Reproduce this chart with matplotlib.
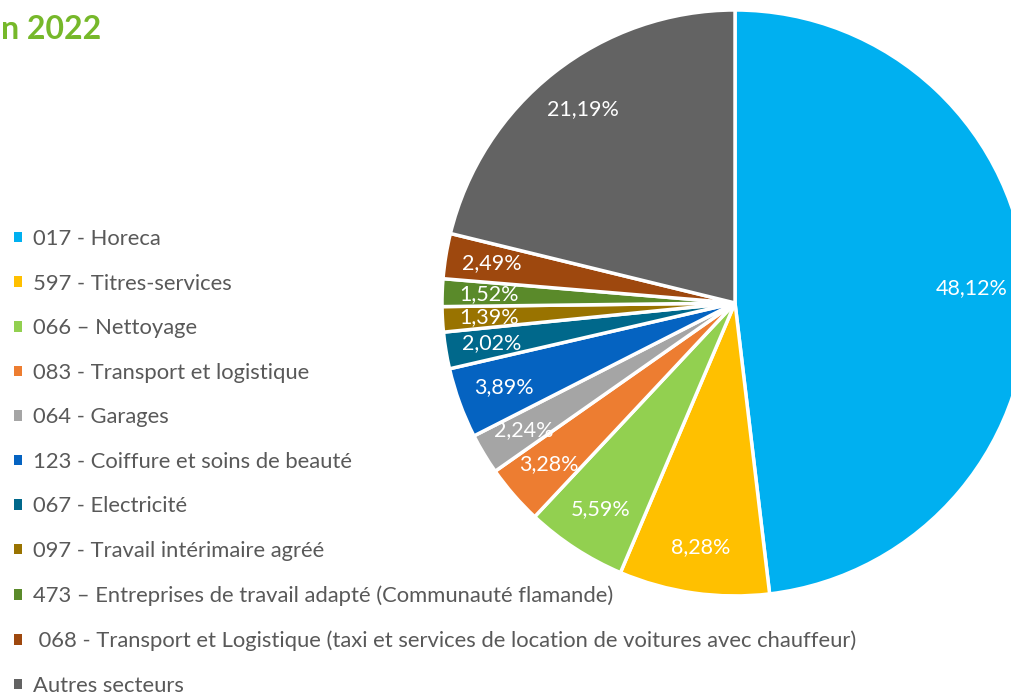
import matplotlib.pyplot as plt
from matplotlib.patches import Patch

# sectors (legend order = pie order, clockwise from 12 o'clock)
labels = [
    '017 - Horeca',
    '597 - Titres-services',
    '066 – Nettoyage',
    '083 - Transport et logistique',
    '064 - Garages',
    '123 - Coiffure et soins de beauté',
    '067 - Electricité',
    '097 - Travail intérimaire agréé',
    '473 – Entreprises de travail adapté (Communauté flamande)',
    ' 068 - Transport et Logistique (taxi et services de location de voitures avec chauffeur)',
    'Autres secteurs',
]
shares = [48.12, 8.28, 5.59, 3.28, 2.24, 3.89, 2.02, 1.39, 1.52, 2.49, 21.19]
colors = ['#00b0f0', '#ffc000', '#92d050', '#ed7d31', '#a5a5a5', '#0563c1',
          '#00688b', '#997300', '#5a8a2a', '#9e480e', '#636363']

plt.rcParams['font.family'] = ['Lato', 'DejaVu Sans']

fig = plt.figure(figsize=(10.12, 6.96), dpi=100)

# pie axes, centre around (735, 303) px, radius ~293 px
ax = fig.add_axes([0.4368, 0.1437, 0.579, 0.842])
wedges, texts = ax.pie(
    shares, colors=colors, startangle=90, counterclock=False, radius=1,
    labels=[f'{v:.2f}%'.replace('.', ',') for v in shares],
    labeldistance=0.84,
    wedgeprops=dict(edgecolor='white', linewidth=2.5),
    textprops=dict(color='white', fontsize=15.5),
)
for t in texts:
    t.set_horizontalalignment('center')
    t.set_verticalalignment('center')
# biggest slice label sits near the right edge, pull it in a bit
x0, y0 = texts[0].get_position()
texts[0].set_position((x0 - 0.03, y0))
ax.set_xlim(-1, 1)
ax.set_ylim(-1, 1)
ax.set_aspect('equal')
ax.axis('off')

handles = [Patch(facecolor=c, edgecolor='none') for c in colors]
fig.legend(handles, labels, loc='upper left', bbox_to_anchor=(0.014, 0.671),
           frameon=False, fontsize=15.8, labelcolor='#595959',
           handlelength=0.36, handleheight=0.36, handletextpad=0.5,
           labelspacing=1.12, borderaxespad=0, borderpad=0)

fig.text(0.001, 0.958, 'n 2022', color='#76b82a', fontsize=23,
         fontweight='bold', ha='left', va='center')

fig.savefig('out.png', dpi=100)
